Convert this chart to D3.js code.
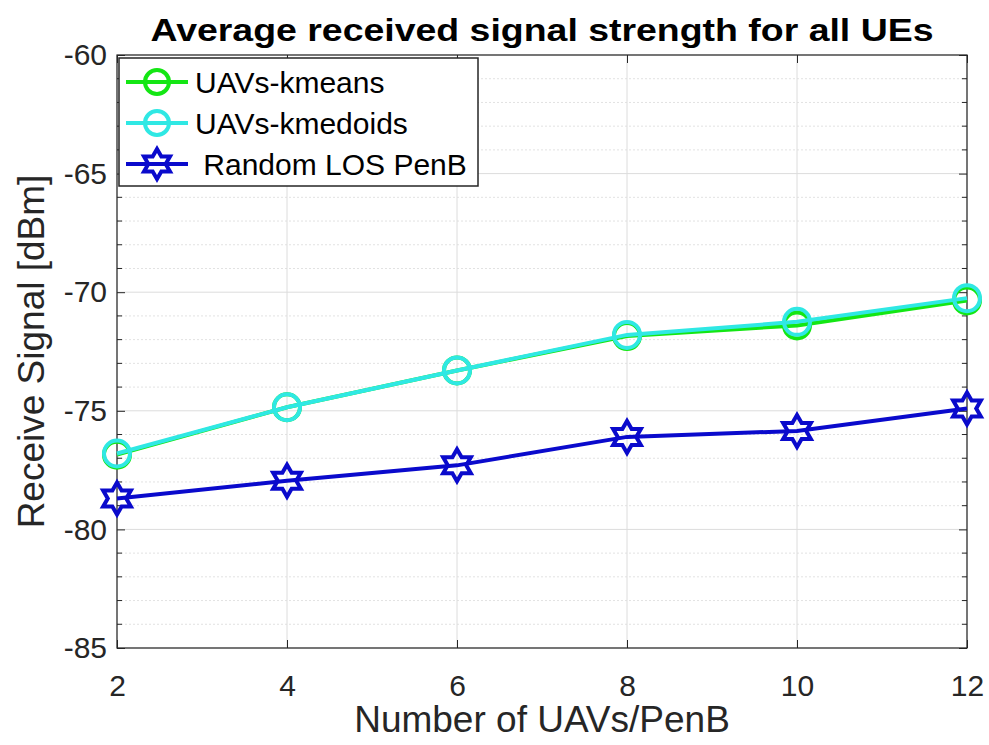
<!DOCTYPE html>
<html>
<head>
<meta charset="utf-8">
<script src="https://cdn.jsdelivr.net/npm/d3@7"></script>
<style>
  body { margin: 0; background: #fff; }
  svg { font-family: "Liberation Sans", Arial, sans-serif; }
</style>
</head>
<body>
<svg id="chart" width="989" height="745"></svg>
<script>
// data
const uavCounts = [2, 4, 6, 8, 10, 12];
const kmeans = [-76.85, -74.85, -73.3, -71.85, -71.4, -70.35];
const kmedoids = [-76.8, -74.85, -73.3, -71.8, -71.25, -70.25];
const randomLos = [-78.7, -77.95, -77.3, -76.1, -75.85, -74.9];
const xTicks = [2, 4, 6, 8, 10, 12];
const yTicks = [-85, -80, -75, -70, -65, -60];
const seriesNames = ["UAVs-kmeans", "UAVs-kmedoids", " Random LOS PenB"];

const margin = { top: 55, right: 22, bottom: 97, left: 117 };
const width = 989, height = 745;
const innerW = width - margin.left - margin.right;
const innerH = height - margin.top - margin.bottom;

const svg = d3.select("#chart");
const g = svg.append("g").attr("transform", "translate(" + margin.left + "," + margin.top + ")");

const x = d3.scaleLinear().domain([2, 12]).range([0, innerW]);
const y = d3.scaleLinear().domain([-85, -60]).range([innerH, 0]);

// minor grid (dotted) every 1 dB
const minorY = d3.range(-84, -60, 1).filter(v => v % 5 !== 0);
g.selectAll(".minor").data(minorY).enter().append("line")
  .attr("x1", 0).attr("x2", innerW)
  .attr("y1", d => y(d)).attr("y2", d => y(d))
  .attr("stroke", "#e2e2e2").attr("stroke-width", 1)
  .attr("stroke-dasharray", "2,2");

// major grid
g.selectAll(".majorY").data(yTicks).enter().append("line")
  .attr("x1", 0).attr("x2", innerW)
  .attr("y1", d => y(d)).attr("y2", d => y(d))
  .attr("stroke", "#dcdcdc").attr("stroke-width", 1);
g.selectAll(".majorX").data(xTicks).enter().append("line")
  .attr("x1", d => x(d)).attr("x2", d => x(d))
  .attr("y1", 0).attr("y2", innerH)
  .attr("stroke", "#dcdcdc").attr("stroke-width", 1);

// axes, ticks inside like matlab
const axisColor = "#262626";
g.append("g").attr("transform", "translate(0," + innerH + ")")
  .call(d3.axisBottom(x).tickValues(xTicks).tickSizeInner(-8).tickSizeOuter(0).tickPadding(27));
g.append("g")
  .call(d3.axisLeft(y).tickValues(yTicks).tickFormat(d => String(d)).tickSizeInner(-8).tickSizeOuter(0).tickPadding(10));
g.append("g").call(d3.axisTop(x).tickValues(xTicks).tickSizeInner(-8).tickSizeOuter(0).tickFormat(""));
g.append("g").attr("transform", "translate(" + innerW + ",0)")
  .call(d3.axisRight(y).tickValues(yTicks).tickSizeInner(-8).tickSizeOuter(0).tickFormat(""));
// minor ticks on left and right
g.selectAll(".mtl").data(minorY).enter().append("line")
  .attr("x1", 0).attr("x2", 5).attr("y1", d => y(d)).attr("y2", d => y(d))
  .attr("stroke", axisColor);
g.selectAll(".mtr").data(minorY).enter().append("line")
  .attr("x1", innerW - 5).attr("x2", innerW).attr("y1", d => y(d)).attr("y2", d => y(d))
  .attr("stroke", axisColor);

g.selectAll(".domain").remove();
g.selectAll(".tick line").attr("stroke", axisColor);
g.selectAll(".tick text").attr("fill", axisColor).attr("font-size", 30);
g.append("rect").attr("width", innerW).attr("height", innerH)
  .attr("fill", "none").attr("stroke", axisColor).attr("stroke-width", 1.2);

// hexagram marker path
function hexagram(r) {
  const pts = [];
  for (let i = 0; i < 12; i++) {
    const a = -Math.PI / 2 + i * Math.PI / 6;
    const rr = i % 2 === 0 ? r : r / Math.sqrt(3);
    pts.push([rr * Math.cos(a), rr * Math.sin(a)]);
  }
  return "M" + pts.map(p => p.join(",")).join("L") + "Z";
}

const series = [
  { name: seriesNames[0], values: kmeans, color: "#14e614", marker: "circle" },
  { name: seriesNames[1], values: kmedoids, color: "#2fe8e4", marker: "circle" },
  { name: seriesNames[2], values: randomLos, color: "#0a0acc", marker: "hex" }
];

const line = d3.line().x((d, i) => x(uavCounts[i])).y(d => y(d));

series.forEach(s => {
  g.append("path").datum(s.values)
    .attr("d", line).attr("fill", "none")
    .attr("stroke", s.color).attr("stroke-width", 4);
  if (s.marker === "circle") {
    g.selectAll(null).data(s.values).enter().append("circle")
      .attr("cx", (d, i) => x(uavCounts[i])).attr("cy", d => y(d))
      .attr("r", 13).attr("fill", "none")
      .attr("stroke", s.color).attr("stroke-width", 4);
  } else {
    g.selectAll(null).data(s.values).enter().append("path")
      .attr("d", hexagram(16))
      .attr("transform", (d, i) => "translate(" + x(uavCounts[i]) + "," + y(d) + ")")
      .attr("fill", "none").attr("stroke", s.color).attr("stroke-width", 4);
  }
});

// legend
const legend = svg.append("g").attr("transform", "translate(119,58)");
legend.append("rect").attr("width", 359).attr("height", 128)
  .attr("fill", "#fff").attr("stroke", axisColor).attr("stroke-width", 1.5);
series.forEach((s, i) => {
  const ly = 24 + i * 41;
  const row = legend.append("g").attr("transform", "translate(0," + ly + ")");
  row.append("line").attr("x1", 7).attr("x2", 69).attr("stroke", s.color).attr("stroke-width", 4);
  if (s.marker === "circle") {
    row.append("circle").attr("cx", 38).attr("r", 12).attr("fill", "none")
      .attr("stroke", s.color).attr("stroke-width", 4);
  } else {
    row.append("path").attr("d", hexagram(15)).attr("transform", "translate(38,0)")
      .attr("fill", "none").attr("stroke", s.color).attr("stroke-width", 4);
  }
  row.append("text").attr("x", 76).attr("y", 0).attr("dy", "0.36em")
    .attr("fill", "#000").attr("font-size", 30).style("white-space", "pre")
    .text(s.name);
});

// title and labels
svg.append("text").attr("x", margin.left + innerW / 2).attr("y", 41)
  .attr("text-anchor", "middle").attr("font-weight", "bold").attr("font-size", 31)
  .attr("textLength", 783).attr("lengthAdjust", "spacingAndGlyphs")
  .attr("fill", "#000").text("Average received signal strength for all UEs");
svg.append("text").attr("x", margin.left + innerW / 2).attr("y", 732)
  .attr("text-anchor", "middle").attr("font-size", 37).attr("fill", axisColor)
  .text("Number of UAVs/PenB");
svg.append("text").attr("transform", "translate(44," + (margin.top + innerH / 2) + ") rotate(-90)")
  .attr("text-anchor", "middle").attr("font-size", 37).attr("fill", axisColor)
  .text("Receive Signal [dBm]");
</script>
</body>
</html>
